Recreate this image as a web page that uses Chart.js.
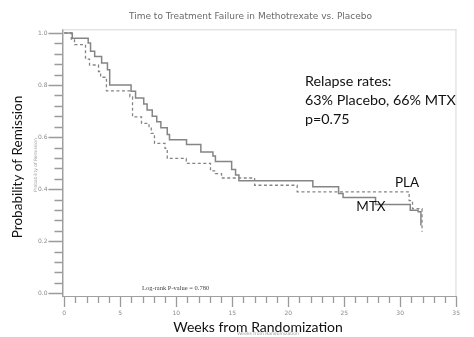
<!DOCTYPE html>
<html>
<head>
<meta charset="utf-8">
<script src="https://cdn.jsdelivr.net/npm/chart.js@4.4.1/dist/chart.umd.min.js"></script>
<style>
html,body{margin:0;padding:0;background:#ffffff;}
#wrap{width:474px;height:337px;position:relative;}
</style>
</head>
<body>
<div id="wrap"><canvas id="c" width="474" height="337"></canvas></div>
<script>
// ---- data ----
const mtxWeeks = [0, 0.72, 2.14, 2.35, 2.72, 3.34, 3.86, 4.06, 5.97, 6.37, 7.1, 7.4, 7.86, 8.26, 8.63, 9.2, 9.4, 10.92, 12.2, 13.28, 13.5, 14.95, 15.3, 15.6, 22.2, 24.5, 24.9, 27.8, 30.9, 31.6, 31.85];
const mtxSurv  = [1.0, 0.98, 0.962, 0.93, 0.91, 0.885, 0.859, 0.80, 0.776, 0.75, 0.727, 0.704, 0.68, 0.659, 0.636, 0.61, 0.59, 0.572, 0.543, 0.527, 0.506, 0.476, 0.454, 0.432, 0.409, 0.383, 0.368, 0.341, 0.319, 0.313, 0.26];
const plaWeeks = [0, 0.63, 0.92, 1.9, 2.26, 3.06, 3.25, 3.77, 5.86, 6.1, 6.9, 7.57, 7.77, 8.06, 9.0, 9.2, 10.9, 13.06, 13.5, 14.05, 17.0, 20.8, 30.8, 31.1, 31.95];
const plaSurv  = [1.0, 0.977, 0.955, 0.9, 0.877, 0.852, 0.83, 0.778, 0.755, 0.678, 0.653, 0.64, 0.614, 0.576, 0.557, 0.518, 0.499, 0.47, 0.46, 0.443, 0.415, 0.39, 0.356, 0.325, 0.236];
const yTickValues = [0, 0.2, 0.4, 0.6, 0.8, 1.0];
const yTickLabels = ['0.0', '0.2', '0.4', '0.6', '0.8', '1.0'];
const yMinorStep = 0.04;
const xTickValues = [0, 5, 10, 15, 20, 25, 30, 35];
const xTickLabels = ['0', '5', '10', '15', '20', '25', '30', '35'];
const xMinorStep = 1;
const titleText = 'Time to Treatment Failure in Methotrexate vs. Placebo';
const noteLines = ['Relapse rates:', '63% Placebo, 66% MTX', 'p=0.75'];
const logRankText = 'Log-rank P-value = 0.780';
const yTitle = 'Probability of Remission';
const xTitle = 'Weeks from Randomization';
const seriesNames = ['MTX', 'PLA'];

const toXY = (xs, ys) => xs.map((x, i) => ({x: x, y: ys[i]}));
const GRAY = '#858585';

const decor = {
  id: 'decor',
  beforeDraw(chart) {
    const ctx = chart.ctx;
    ctx.save();
    ctx.fillStyle = '#ffffff';
    ctx.fillRect(0, 0, chart.width, chart.height);
    ctx.restore();
  },
  afterDraw(chart) {
    const ctx = chart.ctx;
    const a = chart.chartArea;
    const xs = chart.scales.x, ys = chart.scales.y;
    ctx.save();
    // top and right frame lines
    ctx.strokeStyle = '#d8d8d8';
    ctx.lineWidth = 1;
    ctx.beginPath();
    ctx.moveTo(a.left, a.top + 0.5); ctx.lineTo(a.right, a.top + 0.5);
    ctx.moveTo(a.right - 0.5, a.top); ctx.lineTo(a.right - 0.5, a.bottom);
    ctx.stroke();
    // y ticks
    ctx.strokeStyle = '#9a9a9a';
    ctx.lineWidth = 1.3;
    ctx.beginPath();
    for (let k = 0; k <= 25; k++) {
      const v = k * yMinorStep;
      const py = Math.round(ys.getPixelForValue(v)) + 0.5;
      const major = k % 5 === 0;
      ctx.moveTo(a.left - (major ? 14 : 8), py);
      ctx.lineTo(a.left, py);
    }
    // x ticks
    for (let k = 0; k <= 35; k += xMinorStep) {
      const px = Math.round(xs.getPixelForValue(k)) + 0.5;
      const major = k % 5 === 0;
      ctx.moveTo(px, a.bottom + 1);
      ctx.lineTo(px, a.bottom + (major ? 11 : 7));
    }
    ctx.stroke();

    // title
    ctx.fillStyle = '#6a6a6a';
    ctx.font = '9px "DejaVu Sans"';
    ctx.textAlign = 'center';
    ctx.textBaseline = 'middle';
    ctx.fillText(titleText, 250.5, 17);

    // annotation
    ctx.fillStyle = '#111111';
    ctx.font = '14.3px Lato';
    ctx.textAlign = 'left';
    ctx.fillText(noteLines[0], 305, 81);
    ctx.fillText(noteLines[1], 305, 100);
    ctx.fillText(noteLines[2], 305, 119);
    ctx.font = '13.5px Lato';
    ctx.textAlign = 'center';
    ctx.fillText(seriesNames[1], 407, 183);
    ctx.fillText(seriesNames[0], 371, 207);

    // log-rank
    ctx.fillStyle = '#444444';
    ctx.font = '6.5px "Liberation Serif"';
    ctx.textAlign = 'left';
    ctx.fillText(logRankText, 142, 288);

    // tiny original axis labels
    ctx.fillStyle = '#9a9a9a';
    ctx.font = '4.5px "DejaVu Sans"';
    ctx.textAlign = 'center';
    ctx.fillText(xTitle, 268, 334);
    ctx.save();
    ctx.translate(36, 165);
    ctx.rotate(-Math.PI / 2);
    ctx.fillText(yTitle, 0, 0);
    ctx.restore();

    // big axis titles
    ctx.fillStyle = '#111111';
    ctx.font = '14px Lato';
    ctx.fillText(xTitle, 258, 327);
    ctx.save();
    ctx.translate(18, 167);
    ctx.rotate(-Math.PI / 2);
    ctx.font = '13.5px Lato';
    ctx.fillText(yTitle, 0, 0);
    ctx.restore();
    ctx.restore();
  }
};

new Chart(document.getElementById('c'), {
  type: 'line',
  data: {
    datasets: [
      {label: seriesNames[0], data: toXY(mtxWeeks, mtxSurv), stepped: true, borderColor: GRAY, borderWidth: 1.5, pointRadius: 0, fill: false},
      {label: seriesNames[1], data: toXY(plaWeeks, plaSurv), stepped: true, borderColor: GRAY, borderWidth: 1.3, borderDash: [3, 2.5], pointRadius: 0, fill: false}
    ]
  },
  options: {
    responsive: false,
    animation: false,
    events: [],
    layout: {padding: {top: 29.3, right: 1, left: 0, bottom: 0}},
    plugins: {legend: {display: false}, title: {display: false}, tooltip: {enabled: false}},
    scales: {
      x: {
        type: 'linear', min: -0.154, max: 35.026,
        afterFit(s) { s.height = 41; },
        afterBuildTicks(s) { s.ticks = xTickValues.map(v => ({value: v})); },
        ticks: {
          callback: (v) => xTickLabels[xTickValues.indexOf(v)],
          font: {family: 'DejaVu Sans', size: 6}, color: '#8a8a8a', padding: 14, maxRotation: 0, autoSkip: false
        },
        grid: {display: true, drawOnChartArea: false, drawTicks: false},
        border: {display: true, color: '#a0a0a0', width: 1}
      },
      y: {
        type: 'linear', min: -0.0104, max: 1.0142,
        afterFit(s) { s.width = 62.5; },
        afterBuildTicks(s) { s.ticks = yTickValues.map(v => ({value: v})); },
        ticks: {
          callback: (v) => yTickLabels[yTickValues.indexOf(v)],
          font: {family: 'DejaVu Sans', size: 6}, color: '#8a8a8a', padding: 15, autoSkip: false
        },
        grid: {display: true, drawOnChartArea: false, drawTicks: false},
        border: {display: true, color: '#a0a0a0', width: 1.5}
      }
    }
  },
  plugins: [decor]
});
</script>
</body>
</html>
